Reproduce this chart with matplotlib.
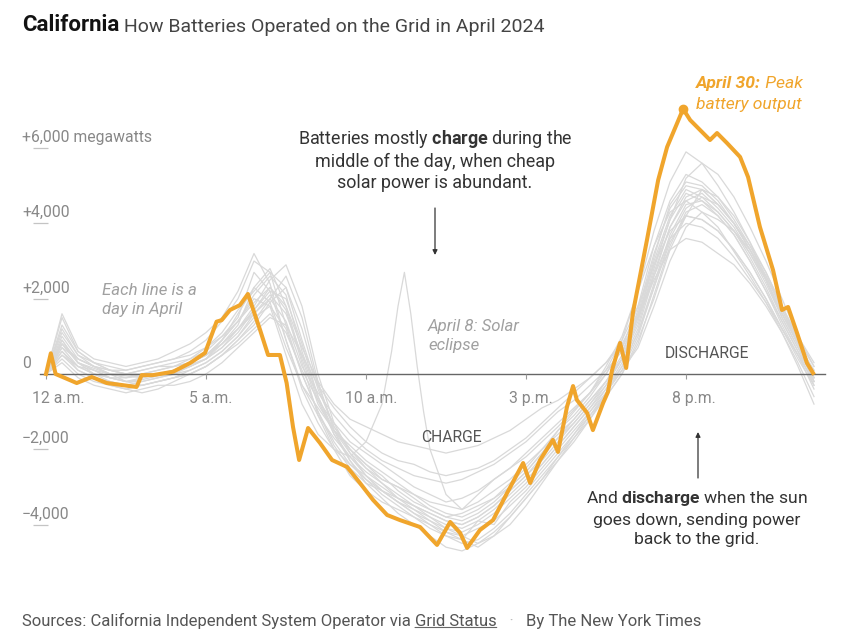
import numpy as np
import matplotlib
matplotlib.use("Agg")
import matplotlib.pyplot as plt

plt.rcParams['font.family'] = ['Roboto', 'DejaVu Sans']
plt.rcParams['mathtext.fontset'] = 'custom'
plt.rcParams['mathtext.rm'] = 'Roboto'
plt.rcParams['mathtext.bf'] = 'Roboto:bold'

W, H = 850, 635

# half-hour grid used for the gray (other April days) lines
hours = np.arange(0, 24.5, 0.5)

day_a = [0, 900, 300, 100, -100, -200, -150, -50, 50, 200, 400, 800, 1300, 2300, 1900, 700, -300, -1100, -1700, -2200,
         -2600, -2900, -3200, -3500, -3700, -3900, -4000, -3800, -3500, -3100, -2700, -2300, -1800, -1300, -800, -300,
         400, 1500, 3000, 4200, 4900, 4700, 4300, 3800, 3100, 2300, 1400, 600, -100]
day_b = [0, 1200, 500, 200, 0, -100, -50, 0, 100, 300, 500, 900, 1600, 2300, 2800, 1800, 400, -800, -1500, -2000,
         -2400, -2800, -3000, -3300, -3600, -3800, -3700, -3500, -3300, -3000, -2600, -2100, -1500, -1000, -500, 100,
         900, 2200, 3800, 5100, 5900, 5600, 5000, 4300, 3500, 2500, 1500, 700, 100]
day_c = [0, 500, 100, -100, -300, -400, -300, -200, -100, 100, 300, 600, 1000, 1500, 1800, 1200, 0, -1000, -1800, -2400,
         -2800, -3200, -3500, -3800, -4100, -4300, -4400, -3900, -4000, -3400, -3000, -2500, -2000, -1500, -1000, -500,
         100, 1000, 2300, 3500, 4200, 4100, 3800, 3300, 2700, 2000, 1200, 400, -300]
day_d = [0, 700, 400, 200, 100, 0, 100, 200, 300, 400, 600, 1000, 1500, 2700, 2200, 900, -300, -900, -1500, -1900,
         -2300, -2600, -2900, -3200, -3400, -3500, -3600, -3400, -3100, -2800, -2400, -2000, -1600, -1200, -700, -200,
         500, 1700, 3200, 4400, 5000, 4900, 4500, 4000, 3300, 2500, 1600, 800, 0]
day_e = [0, 1000, 400, 200, 0, -200, -300, -200, -100, 0, 200, 500, 900, 1400, 2000, 2600, 1500, -200, -1500, -2300,
         -2900, -3300, -3700, -4000, -4300, -4600, -4700, -4500, -4200, -3800, -3300, -2800, -2200, -1600, -1000, -400,
         300, 1200, 2600, 3900, 4600, 4800, 4400, 3900, 3200, 2400, 1500, 700, -200]
day_f = [0, 1500, 600, 300, 200, 100, 200, 300, 400, 600, 900, 1400, 2000, 3000, 2700, 1300, 0, -1000, -1900, -2500,
         -2900, -3100, -3400, -3700, -3900, -4100, -4200, -4000, -3700, -3300, -2900, -2400, -1900, -1400, -900, -300,
         400, 1400, 2800, 4100, 5200, 5600, 5300, 4700, 3900, 3000, 2000, 1000, 200]
day_g = [0, 400, 0, -200, -300, -400, -500, -400, -200, 0, 200, 500, 800, 1200, 1600, 1100, 100, -700, -1300, -1800,
         -2100, -2400, -2700, -3000, -3200, -3400, -3300, -3100, -2800, -2500, -2100, -1700, -1300, -900, -500, 0,
         700, 1500, 2500, 3300, 3600, 3500, 3200, 2900, 2400, 1800, 1100, 300, -600]
day_h = [0, 800, 300, 0, -100, -100, 0, 100, 200, 300, 500, 800, 1200, 1700, 2200, 2000, 800, -600, -1600, -2300,
         -2800, -3100, -3400, -3600, -3800, -4000, -4100, -3900, -3600, -3200, -2800, -2400, -1900, -1400, -900, -400,
         200, 1100, 2400, 3700, 4500, 4600, 4300, 3800, 3200, 2500, 1600, 800, -100]
day_i = [0, 600, 200, 0, -200, -300, -200, -100, 0, 200, 400, 700, 1100, 1700, 2300, 1700, 300, -1100, -2000, -2700,
         -3100, -3400, -3600, -3800, -4000, -4200, -4300, -4100, -3900, -3500, -3100, -2600, -2100, -1600, -1100, -600,
         0, 800, 2100, 3400, 4300, 4500, 4200, 3700, 3000, 2200, 1300, 500, -400]
day_j = [0, 1100, 500, 300, 100, 0, -100, 0, 100, 300, 500, 900, 1400, 2100, 2600, 2100, 600, -600, -1500, -2100,
         -2500, -2800, -3000, -3200, -3500, -3700, -3800, -3600, -3300, -2900, -2500, -2000, -1500, -1100, -600, 0,
         700, 1800, 3400, 4600, 5300, 5100, 4700, 4100, 3400, 2600, 1700, 800, 100]
day_k = [0, 500, 200, 100, 0, 0, 100, 200, 200, 300, 500, 800, 1200, 1600, 2000, 1400, 200, -500, -1100, -1600,
         -2000, -2300, -2500, -2700, -2800, -2900, -2800, -2600, -2400, -2100, -1800, -1400, -1000, -700, -300, 100,
         600, 1500, 2900, 4100, 4800, 4600, 4200, 3700, 3000, 2200, 1400, 600, -300]
day_l = [0, 900, 300, 100, -100, -200, -100, 0, 100, 200, 400, 700, 1200, 1800, 2500, 2900, 1800, 0, -1300, -2100,
         -2700, -3100, -3400, -3700, -4000, -4300, -4500, -4400, -4100, -3700, -3200, -2700, -2200, -1700, -1200, -600,
         0, 900, 2000, 3300, 4200, 4900, 4700, 4200, 3500, 2700, 1800, 900, 0]
day_m = [0, 700, 200, 0, -100, -200, -200, -100, 0, 100, 300, 600, 1000, 1600, 2100, 1600, 500, -700, -1600, -2200,
         -2700, -3100, -3300, -3500, -3700, -3900, -4000, -3800, -3500, -3100, -2700, -2200, -1700, -1200, -700, -200,
         400, 1300, 2700, 3900, 4700, 4900, 4500, 4000, 3300, 2500, 1600, 800, -100]
day_n = [0, 1300, 600, 300, 100, 0, 0, 100, 200, 400, 700, 1100, 1700, 2200, 2700, 2300, 900, -400, -1400, -2000,
         -2400, -2700, -3100, -3400, -3600, -3800, -3900, -3700, -3400, -3000, -2600, -2100, -1700, -1300, -800, -200,
         400, 1600, 3100, 4500, 5100, 5000, 4600, 4000, 3300, 2600, 1700, 900, 200]
day_o = [0, 600, 100, -100, -200, -300, -300, -200, -100, 0, 200, 500, 900, 1300, 1900, 2300, 1200, -300, -1400, -2000,
         -2500, -2900, -3300, -3600, -3900, -4200, -4400, -4600, -4300, -3800, -3300, -2800, -2300, -1800, -1200, -500,
         200, 1100, 2300, 3600, 4400, 4700, 4500, 4000, 3400, 2700, 1800, 900, -200]
day_p = [0, 800, 400, 200, 100, 100, 200, 300, 400, 500, 700, 1000, 1400, 1900, 2300, 1800, 700, -200, -800, -1200,
         -1400, -1600, -1800, -1900, -2000, -2100, -2000, -1900, -1700, -1500, -1200, -900, -700, -400, -100, 300,
         900, 1800, 2900, 3800, 4200, 4100, 3800, 3300, 2700, 2000, 1200, 500, -200]
day_q = [0, 1600, 700, 400, 300, 200, 300, 400, 600, 800, 1100, 1500, 2200, 3200, 2400, 900, -400, -1300, -2000, -2400,
         -2700, -3000, -3300, -3500, -3800, -4100, -4300, -4500, -4300, -4000, -3500, -2900, -2300, -1700, -1100, -500,
         100, 700, 1800, 3000, 3900, 4300, 4100, 3800, 3300, 2600, 1800, 1000, 300]
day_r = [0, 300, -100, -300, -400, -500, -400, -300, -300, -200, 0, 300, 700, 1100, 1500, 1300, 500, -300, -900, -1400,
         -1800, -2100, -2300, -2400, -2600, -2700, -2600, -2500, -2300, -2000, -1700, -1300, -900, -500, -100, 300,
         800, 1600, 2600, 3600, 4000, 3900, 3600, 3100, 2500, 1900, 1100, 200, -800]

# April 8 (solar eclipse) has its own time points
eclipse_h = [0, 0.5, 1, 2, 3, 4, 5, 5.5, 6, 6.5, 7, 7.5, 8, 8.5, 9, 9.5, 10, 10.5, 10.8, 11.0, 11.2, 11.4, 11.6,
             11.8, 12.0, 12.5, 13, 13.5, 14, 15, 16, 17, 17.5, 18, 18.5, 19, 19.5, 20, 20.5, 21, 22, 23, 24]
eclipse_mw = [0, 800, 300, 0, -100, 100, 400, 900, 1400, 2000, 1800, 500, -800, -1600, -2000, -2200, -1800, -800, 600,
              1800, 2700, 1600, 200, -1000, -2000, -3200, -3600, -3200, -2800, -2200, -1400, -500, 200, 1000, 2200,
              3400, 4300, 4600, 4300, 3900, 2600, 1200, -200]

# April 30, highlighted
apr30_h = [0.0, 0.15, 0.3, 0.96, 1.43, 1.9, 2.83, 2.99, 3.34, 3.97, 4.5, 4.97, 5.33, 5.49, 5.75, 6.06, 6.31, 6.69,
           6.94, 7.31, 7.52, 7.72, 7.91, 8.19, 8.56, 8.94, 9.41, 9.81, 10.22, 10.66, 11.06, 11.69, 12.22, 12.63,
           12.94, 13.16, 13.56, 13.97, 14.41, 14.91, 15.13, 15.44, 15.84, 16.0, 16.28, 16.47, 16.59, 16.91, 17.09,
           17.41, 17.56, 17.69, 17.94, 18.13, 18.34, 18.78, 19.13, 19.41, 19.91, 20.13, 20.44, 20.75, 20.97, 21.28,
           21.69, 21.94, 22.31, 22.72, 23.0, 23.19, 23.47, 23.78, 23.97]
apr30_mw = [0, 550, 0, -240, -80, -240, -345, -30, -30, 60, 290, 560, 1390, 1430, 1700, 1830, 2125, 1170, 505, 505,
            -240, -1410, -2285, -1435, -1830, -2285, -2470, -2895, -3345, -3745, -3880, -4065, -4540, -3930, -4220,
            -4620, -4145, -3880, -3160, -2365, -2895, -2285, -1750, -2070, -875, -320, -690, -1035, -1490, -770,
            -480, 105, 825, 160, 1620, 3560, 5150, 6030, 7040, 6745, 6480, 6215, 6400, 6135, 5765, 5230, 3905, 2760,
            1700, 1780, 1090, 290, 25]

yticks = [6000, 4000, 2000, 0, -2000, -4000]
ylabels = ['+6,000 megawatts', '+4,000', '+2,000', '0', '\u22122,000', '\u22124,000']
xticks = [0, 5, 10, 15, 20]
xlabels = ['12 a.m.', '5 a.m.', '10 a.m.', '3 p.m.', '8 p.m.']

gray_days = [day_a, day_b, day_c, day_d, day_e, day_f, day_g, day_h, day_i,
             day_j, day_k, day_l, day_m, day_n, day_o, day_p, day_q, day_r]

ORANGE = '#F0A52C'
GRAY = '#d9d9d9'


def fx(x):
    return x / W


def fy(y):
    return 1 - y / H


fig = plt.figure(figsize=(8.5, 6.35), dpi=100)
xlim = (-0.8, 24.6)
ylim = (-5400, 7700)
ax = fig.add_axes([fx(20.4), fy(577.3), 812.8 / W, (577.3 - 84.1) / H])
ax.set_xlim(*xlim)
ax.set_ylim(*ylim)
ax.axis('off')

for d in gray_days:
    ax.plot(hours, d, color=GRAY, lw=0.9, zorder=1)
ax.plot(eclipse_h, eclipse_mw, color=GRAY, lw=0.9, zorder=1)

# zero line and ticks
span = xlim[1] - xlim[0]
ax.axhline(0, xmin=(-0.2 - xlim[0]) / span, xmax=(24.35 - xlim[0]) / span, color='#666', lw=1, zorder=2)
ax.vlines(xticks, -130, 0, color='#999', lw=0.8, zorder=2)

ax.plot(apr30_h, apr30_mw, color=ORANGE, lw=2.9, zorder=3, solid_joinstyle='round')
k = int(np.argmax(apr30_mw))
ax.plot(apr30_h[k], apr30_mw[k], 'o', color=ORANGE, ms=6, zorder=4)

# y labels with short underline
for v, lab in zip(yticks, ylabels):
    ax.annotate(lab, xy=(-0.75, v), xytext=(0, 4.5), textcoords='offset points',
                va='baseline', ha='left', color='#888', fontsize=11.3)
ax.hlines([v for v in yticks if v != 0], -0.41, 0.06, color='#c4c4c4', lw=0.9)

# x labels
xoff = [0.375, 0.15, 0.15, 0.15, 0.25]
for t, o, lab in zip(xticks, xoff, xlabels):
    ax.text(t + o, -660, lab, ha='center', va='center', color='#888', fontsize=11.3)

# title
t1 = fig.text(fx(22), fy(31), 'California', fontsize=16, fontweight='bold', color='#121212', va='baseline')
ax.annotate(' How Batteries Operated on the Grid in April 2024', xy=(1, 0), xycoords=t1,
            va='bottom', ha='left', fontsize=14, color='#444', annotation_clip=False)

# notes
fig.text(fx(102), fy(300), 'Each line is a\nday in April', fontsize=12.1, style='italic', color='#a0a0a0',
         va='center', ha='left', linespacing=1.3)
fig.text(fx(428), fy(336), 'April 8: Solar\neclipse', fontsize=12.1, style='italic', color='#a0a0a0',
         va='center', ha='left', linespacing=1.3)
fig.text(fx(451), fy(437), 'CHARGE', fontsize=11.3, color='#555', va='center', ha='center')
fig.text(fx(707), fy(354), 'DISCHARGE', fontsize=11.3, color='#555', va='center', ha='center')

fig.text(fx(435), fy(160), 'Batteries mostly $\\mathbf{charge}$ during the\nmiddle of the day, when cheap\n'
         'solar power is abundant.', fontsize=12.9, color='#333', ha='center', va='center',
         multialignment='center', linespacing=1.2)
fig.text(fx(697), fy(518), 'And $\\mathbf{discharge}$ when the sun\ngoes down, sending power\nback to the grid.',
         fontsize=12.6, color='#333', ha='center', va='center', multialignment='center', linespacing=1.38)

ax.annotate('', xy=(fx(435), fy(255)), xytext=(fx(435), fy(208)), xycoords='figure fraction',
            arrowprops=dict(arrowstyle='-|>', color='#333', lw=0.9, mutation_scale=7, shrinkA=0, shrinkB=0))
ax.annotate('', xy=(fx(698), fy(432)), xytext=(fx(698), fy(478)), xycoords='figure fraction',
            arrowprops=dict(arrowstyle='-|>', color='#333', lw=0.9, mutation_scale=7, shrinkA=0, shrinkB=0))

# peak label
p1 = fig.text(fx(696), fy(88), 'April 30:', fontsize=12.6, fontweight='bold', style='italic', color=ORANGE,
              va='baseline')
ax.annotate(' Peak', xy=(1, 0), xycoords=p1, va='bottom', ha='left', fontsize=12.6, style='italic', color=ORANGE,
            annotation_clip=False)
fig.text(fx(802), fy(109), 'battery output', fontsize=12.6, style='italic', color=ORANGE, va='baseline', ha='right')

# footer
s1 = fig.text(fx(22), fy(626), 'Sources: California Independent System Operator via ', fontsize=12,
              color='#555', va='baseline')
s2 = ax.annotate('Grid Status', xy=(1, 0), xycoords=s1, va='bottom', ha='left', fontsize=12, color='#555',
                 annotation_clip=False)
s3 = ax.annotate('   \u00b7   ', xy=(1, 0), xycoords=s2, va='bottom', ha='left', fontsize=12, color='#bbb',
                 annotation_clip=False)
ax.annotate('By The New York Times', xy=(1, 0), xycoords=s3, va='bottom', ha='left', fontsize=12, color='#555',
            annotation_clip=False)
ax.annotate('', xy=(0, 0.1), xycoords=s2, xytext=(1, 0.1), textcoords=s2,
            arrowprops=dict(arrowstyle='-', color='#666', lw=0.8, shrinkA=0, shrinkB=0), annotation_clip=False)

fig.savefig('out.png', dpi=100)
